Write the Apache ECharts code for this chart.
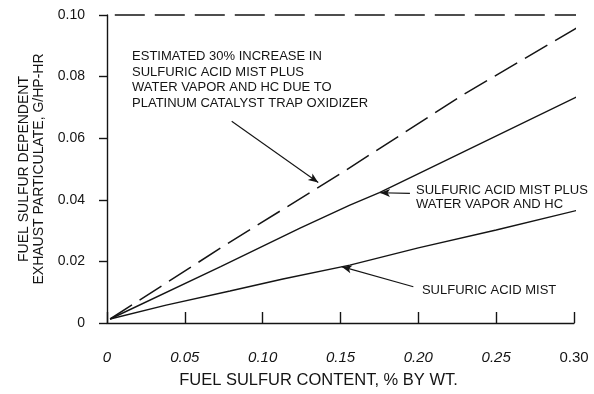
<!DOCTYPE html>
<html>
<head>
<meta charset="utf-8">
<script src="https://cdn.jsdelivr.net/npm/echarts@6/dist/echarts.min.js"></script>
<style>html,body{margin:0;padding:0;background:#fff}#c{width:594px;height:394px}</style>
</head>
<body>
<div id="c"></div>
<script>
// Data
const xTicks = [0, 0.05, 0.10, 0.15, 0.20, 0.25, 0.30];
const yTicks = [0, 0.02, 0.04, 0.06, 0.08, 0.10];

const mistX = [0.002, 0.038, 0.079, 0.113, 0.156, 0.200, 0.250, 0.303];
const mistY = [0.0013, 0.0058, 0.0104, 0.0143, 0.0188, 0.0244, 0.0302, 0.0367];

const plusX = [0.002, 0.073, 0.124, 0.156, 0.175, 0.227, 0.303];
const plusY = [0.0013, 0.0183, 0.0308, 0.0383, 0.0423, 0.0551, 0.0737];

const estX = [0.002, 0.075, 0.150, 0.230, 0.303];
const estY = [0.0013, 0.0250, 0.0485, 0.0745, 0.0962];

const limitX = [0.005, 0.303];
const limitY = [0.10, 0.10];

// annotations (data coordinates)
const notes = [
  {text: 'ESTIMATED 30% INCREASE IN\nSULFURIC ACID MIST PLUS\nWATER VAPOR AND HC DUE TO\nPLATINUM CATALYST TRAP OXIDIZER', x: 0.0161, y: 0.0789, lh: 15.5},
  {text: 'SULFURIC ACID MIST PLUS\nWATER VAPOR AND HC', x: 0.1985, y: 0.0409, lh: 14},
  {text: 'SULFURIC ACID MIST', x: 0.2023, y: 0.0105, lh: 14}
];
const arrows = [
  {from: [0.0801, 0.0655], to: [0.1357, 0.0456]},
  {from: [0.1946, 0.0421], to: [0.1754, 0.0423]},
  {from: [0.1968, 0.0118], to: [0.1508, 0.0183]}
];

const zip = (xs, ys) => xs.map((x, i) => [x, ys[i]]);
const INK = '#141414';
const FONT = '"Liberation Sans", Arial, sans-serif';

const chart = echarts.init(document.getElementById('c'), null, {renderer: 'canvas'});
const option = {
  animation: false,
  backgroundColor: '#fff',
  grid: {left: 107, right: 20, top: 15, bottom: 71},
  xAxis: {
    type: 'value', min: 0, max: 0.30, interval: 0.05, offset: 18,
    splitLine: {show: false},
    axisLine: {show: true, lineStyle: {color: INK, width: 1.4}},
    axisTick: {show: true, inside: true, length: 11, lineStyle: {color: INK, width: 1.4}},
    axisLabel: {
      margin: 9, color: INK, fontFamily: FONT, fontSize: 15,
      formatter: v => {
        const t = v === 0 ? '0' : v.toFixed(2);
        return Math.abs(v - 0.30) < 1e-9 ? '{n|' + t + '}' : '{i|' + t + '}';
      },
      rich: {
        i: {fontStyle: 'italic', fontSize: 15, fontFamily: FONT, color: INK},
        n: {fontSize: 15, fontFamily: FONT, color: INK}
      }
    },
    name: 'FUEL SULFUR CONTENT, % BY WT.',
    nameLocation: 'middle', nameGap: 31,
    nameTextStyle: {color: INK, fontFamily: FONT, fontSize: 16.5, padding: [0, 44, 0, 0]}
  },
  yAxis: {
    type: 'value', min: 0, max: 0.10, interval: 0.02, offset: 8,
    splitLine: {show: false},
    axisLine: {show: true, lineStyle: {color: INK, width: 1.4}},
    axisTick: {show: true, inside: false, length: 8, lineStyle: {color: INK, width: 1.4}},
    axisLabel: {
      margin: 14, color: INK, fontFamily: FONT, fontSize: 14,
      formatter: v => v === 0 ? '0' : v.toFixed(2)
    },
    name: 'FUEL SULFUR DEPENDENT\nEXHAUST PARTICULATE, G/HP-HR',
    nameLocation: 'middle', nameGap: 50,
    nameTextStyle: {color: INK, fontFamily: FONT, fontSize: 14, lineHeight: 15}
  },
  series: [
    {
      name: 'Sulfuric acid mist', type: 'line', data: zip(mistX, mistY),
      symbol: 'none', clip: false, lineStyle: {color: INK, width: 1.4},
      markLine: {
        silent: true, animation: false,
        symbol: ['none', 'arrow'], symbolSize: [6, 10],
        label: {show: false},
        lineStyle: {color: INK, width: 1.1, type: 'solid'},
        emphasis: {disabled: true},
        data: arrows.map(a => [{coord: a.from}, {coord: a.to}])
      }
    },
    {
      name: 'Mist plus water vapor and HC', type: 'line', data: zip(plusX, plusY),
      symbol: 'none', clip: false, lineStyle: {color: INK, width: 1.4}
    },
    {
      name: 'Estimated 30% increase', type: 'line', data: zip(estX, estY),
      symbol: 'none', clip: false, lineStyle: {color: INK, width: 1.5, type: [26, 9]}
    },
    {
      name: 'Limit', type: 'line', data: zip(limitX, limitY),
      symbol: 'none', clip: false, lineStyle: {color: INK, width: 1.5, type: [30, 10]}
    }
  ]
};
chart.setOption(option);

const g = notes.map(n => {
  const p = chart.convertToPixel({gridIndex: 0}, [n.x, n.y]);
  return {
    type: 'text', x: p[0], y: p[1], silent: true,
    style: {
      text: n.text, fill: INK, font: '13px ' + FONT,
      align: 'left', verticalAlign: 'middle', lineHeight: n.lh
    }
  };
});
chart.setOption({graphic: g});
</script>
</body>
</html>
